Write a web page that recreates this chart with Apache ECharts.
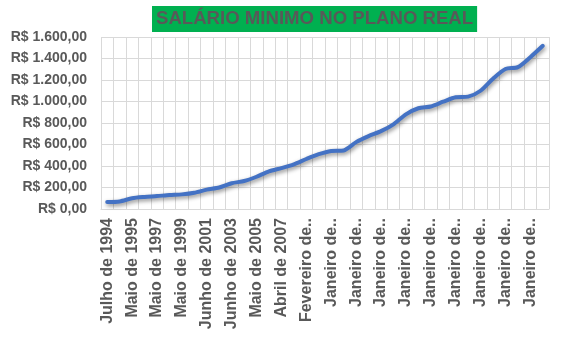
<!DOCTYPE html>
<html>
<head>
<meta charset="utf-8">
<script src="https://cdn.jsdelivr.net/npm/echarts@6/dist/echarts.min.js"></script>
<style>html,body{margin:0;padding:0;background:#fff}#c{width:572px;height:347px}</style>
</head>
<body>
<div id="c"></div>
<script>
const categories = [
  "Julho de 1994","Setembro de 1994","Maio de 1995","Maio de 1996","Maio de 1997","Maio de 1998",
  "Maio de 1999","Abril de 2000","Junho de 2001","Abril de 2002","Junho de 2003","Maio de 2004",
  "Maio de 2005","Abril de 2006","Abril de 2007","Março de 2008","Fevereiro de 2009","Janeiro de 2010",
  "Janeiro de 2011","Março de 2011","Janeiro de 2012","Janeiro de 2013","Janeiro de 2014","Janeiro de 2015",
  "Janeiro de 2016","Janeiro de 2017","Janeiro de 2018","Janeiro de 2019","Janeiro de 2020","Fevereiro de 2020",
  "Janeiro de 2021","Janeiro de 2022","Janeiro de 2023","Maio de 2023","Janeiro de 2024","Janeiro de 2025"
];
const salario = [
  64.79, 70, 100, 112, 120, 130,
  136, 151, 180, 200, 240, 260,
  300, 350, 380, 415, 465, 510,
  540, 545, 622, 678, 724, 788,
  880, 937, 954, 998, 1039, 1045,
  1100, 1212, 1302, 1320, 1412, 1518
];
const yTicks = { min: 0, max: 1600, interval: 200 };
const titleText = "SALÁRIO MINIMO NO PLANO REAL";

function brl(v) {
  const parts = v.toFixed(2).split(".");
  const int = parts[0].replace(/\B(?=(\d{3})+(?!\d))/g, ".");
  return "R$ " + int + "," + parts[1];
}

const chart = echarts.init(document.getElementById('c'));
chart.setOption({
  animation: false,
  title: {
    text: titleText,
    left: 152, top: 6,
    backgroundColor: '#00B050',
    padding: [3, 4, 3, 4],
    textStyle: { fontFamily: 'Liberation Sans', fontWeight: 'bold', fontSize: 18.6, color: '#595959', lineHeight: 20 }
  },
  grid: { left: 101, right: 23, top: 37, bottom: 138, containLabel: false },
  xAxis: {
    type: 'category',
    data: categories,
    boundaryGap: true,
    axisLine: { show: true, lineStyle: { color: '#D9D9D9', width: 1 } },
    axisTick: { show: false },
    splitLine: { show: true, interval: 0, lineStyle: { color: '#D9D9D9', width: 1 } },
    axisLabel: {
      interval: 1, rotate: 90, margin: 9,
      fontFamily: 'Liberation Sans', fontWeight: 'bold', fontSize: 16, color: '#595959',
      formatter: function (v) { return v.length > 13 ? v.replace(/\s\d{4}$/, '') + '..' : v; }
    }
  },
  yAxis: {
    type: 'value',
    min: yTicks.min, max: yTicks.max, interval: yTicks.interval,
    axisLine: { show: false },
    axisTick: { show: false },
    splitLine: { show: true, lineStyle: { color: '#D9D9D9', width: 1 } },
    axisLabel: {
      margin: 14,
      fontFamily: 'Liberation Sans', fontWeight: 'bold', fontSize: 14, color: '#595959',
      formatter: brl
    }
  },
  series: [{
    type: 'line',
    data: salario,
    smooth: 0.25,
    symbol: 'none',
    lineStyle: { color: '#4472C4', width: 4, shadowColor: 'rgba(0,0,0,0.45)', shadowBlur: 4, shadowOffsetX: 1, shadowOffsetY: 2, cap: 'round' }
  }]
});
</script>
</body>
</html>
